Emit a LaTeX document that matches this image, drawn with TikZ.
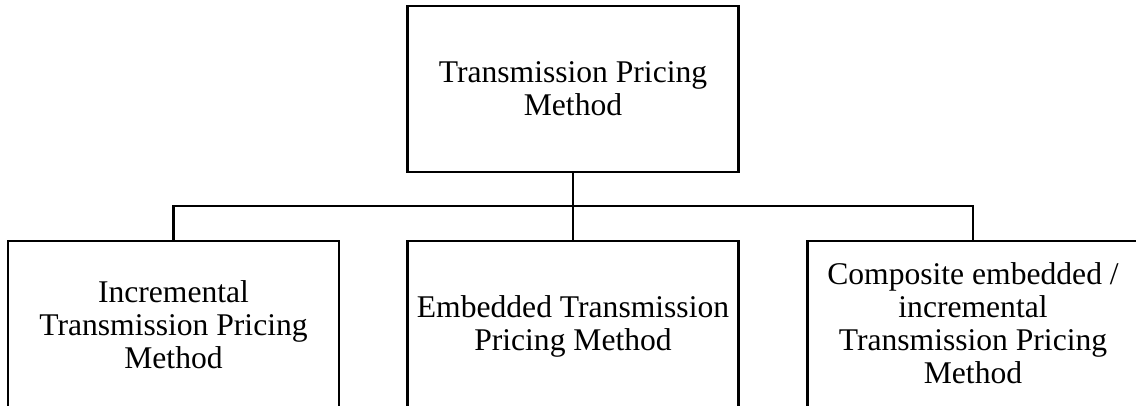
\documentclass[tikz,border=0pt]{standalone}
\usepackage{fontspec}
\setmainfont{Liberation Serif}
\begin{document}
\begin{tikzpicture}[x=1pt,y=-1pt,
  box/.style={draw=black,line width=2.6pt,minimum width=331pt,inner sep=0pt,fill=none},
  lbl/.style={align=center,inner sep=0pt,anchor=base,font=\fontsize{31.6}{33}\selectfont},
  link/.style={draw=black,line width=2.6pt}]
\useasboundingbox (0,0) rectangle (1136,405);
\clip (0,0) rectangle (1136,405);
\fill[white] (0,0) rectangle (1136,405);
% boxes
\node[box,minimum height=166pt] (top) at (573,89) {};
\node[box,minimum height=220pt] (left) at (173.5,351) {};
\node[box,minimum height=220pt] (mid) at (573,351) {};
\node[box,minimum height=220pt] (right) at (973,351) {};
% texts (anchored at the baseline of the last line)
\node[lbl] (t0) at (573,115) {Transmission Pricing\\Method};
\node[lbl] (t1) at (173.5,368) {Incremental\\Transmission Pricing\\Method};
\node[lbl] (t2) at (573,350) {Embedded Transmission\\Pricing Method};
\node[lbl] (t3) at (973,383) {Composite embedded /\\incremental\\Transmission Pricing\\Method};
% connectors
\coordinate (bus) at (573,206);
\draw[link] (top.south) -- (mid.north);
\draw[link] (left.north) |- (bus) -| (right.north);
\end{tikzpicture}
\end{document}
